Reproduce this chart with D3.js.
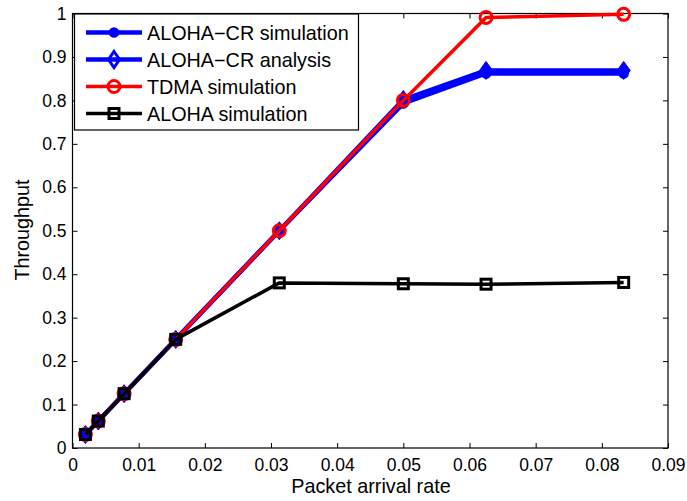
<!DOCTYPE html>
<html>
<head>
<meta charset="utf-8">
<script src="https://cdn.jsdelivr.net/npm/d3@7"></script>
<style>
body { margin: 0; background: #fff; }
text { font-family: "Liberation Sans", Arial, sans-serif; }
</style>
</head>
<body>
<script>
// packet arrival rates (x) and throughput of each scheme (y)
var rates = [0.00195, 0.0039, 0.0078, 0.0156, 0.03125, 0.05, 0.0625, 0.0833];
var crSim = [0.031, 0.062, 0.125, 0.25, 0.5, 0.793, 0.862, 0.862];
var crAnalysis = [0.031, 0.062, 0.125, 0.25, 0.5, 0.802, 0.869, 0.869];
var tdmaSim = [0.031, 0.062, 0.125, 0.25, 0.5, 0.8, 0.991, 0.998];
var alohaSim = [0.031, 0.062, 0.125, 0.25, 0.38, 0.378, 0.377, 0.381];

var seriesNames = ["ALOHA\u2212CR simulation", "ALOHA\u2212CR analysis", "TDMA simulation", "ALOHA simulation"];
var xTicks = [0, 0.01, 0.02, 0.03, 0.04, 0.05, 0.06, 0.07, 0.08, 0.09];
var yTicks = [0, 0.1, 0.2, 0.3, 0.4, 0.5, 0.6, 0.7, 0.8, 0.9, 1];

// Settings
var w = 687, h = 501;
var pLeft = 72.5, pRight = 668, pTop = 13.5, pBottom = 448;

var xScale = d3.scaleLinear().domain([0, 0.09]).range([pLeft, pRight]);
var yScale = d3.scaleLinear().domain([0, 1]).range([pBottom, pTop]);

var svg = d3.select("body").append("svg")
	.attr("width", w)
	.attr("height", h);

// axes with inward ticks (bottom/left labelled, top/right bare)
var fmt = function(d) { return String(+d.toFixed(2)); };
svg.append("g")
	.attr("transform", "translate(0," + pBottom + ")")
	.call(d3.axisBottom(xScale).tickValues(xTicks).tickSizeInner(-5).tickSizeOuter(0).tickPadding(11).tickFormat(fmt));
svg.append("g")
	.attr("transform", "translate(" + pLeft + ",0)")
	.call(d3.axisLeft(yScale).tickValues(yTicks).tickSizeInner(-5).tickSizeOuter(0).tickPadding(6).tickFormat(fmt));
svg.append("g")
	.attr("transform", "translate(0," + pTop + ")")
	.call(d3.axisTop(xScale).tickValues(xTicks).tickSizeInner(-5).tickSizeOuter(0).tickFormat(""));
svg.append("g")
	.attr("transform", "translate(" + pRight + ",0)")
	.call(d3.axisRight(yScale).tickValues(yTicks).tickSizeInner(-5).tickSizeOuter(0).tickFormat(""));

svg.selectAll(".domain").remove();
svg.selectAll(".tick line").attr("stroke", "#000");
svg.selectAll(".tick text").attr("font-size", 17.5).attr("fill", "#000")
	.attr("font-family", "'Liberation Sans', Arial, sans-serif");

// frame
svg.append("rect")
	.attr("x", pLeft).attr("y", pTop)
	.attr("width", pRight - pLeft).attr("height", pBottom - pTop)
	.attr("fill", "none").attr("stroke", "#000").attr("stroke-width", 1.2);

// axis titles
svg.append("text")
	.attr("x", 371).attr("y", 492.5)
	.attr("text-anchor", "middle").attr("font-size", 19.8)
	.text("Packet arrival rate");
svg.append("text")
	.attr("transform", "translate(28.5," + 230 + ") rotate(-90)")
	.attr("text-anchor", "middle").attr("font-size", 19.8)
	.text("Throughput");

// marker drawing (legend diamond is drawn hollow, plot diamonds come out solid)
function drawMarker(g, type, color, inLegend) {
	if (type == "circleFilled") {
		g.append("circle").attr("r", 4.5).attr("fill", color).attr("stroke", color).attr("stroke-width", 1.5);
	} else if (type == "diamond") {
		if (inLegend) {
			g.append("path").attr("d", "M0,-8L5.5,0L0,8L-5.5,0Z").attr("fill", "none").attr("stroke", color).attr("stroke-width", 3);
		} else {
			g.append("path").attr("d", "M0,-9L6.5,0L0,9L-6.5,0Z").attr("fill", color).attr("stroke", color).attr("stroke-width", 1);
		}
	} else if (type == "circleOpen") {
		g.append("circle").attr("r", 6).attr("fill", "none").attr("stroke", color).attr("stroke-width", 3);
	} else if (type == "square") {
		g.append("rect").attr("x", -5).attr("y", -5).attr("width", 10).attr("height", 10)
			.attr("fill", "none").attr("stroke", color).attr("stroke-width", 3);
	}
}

var series = [
	{ name: seriesNames[0], values: crSim, color: "#0000ff", marker: "circleFilled", width: 4.5 },
	{ name: seriesNames[1], values: crAnalysis, color: "#0000ff", marker: "diamond", width: 4.5 },
	{ name: seriesNames[2], values: tdmaSim, color: "#ff0000", marker: "circleOpen", width: 3.5 },
	{ name: seriesNames[3], values: alohaSim, color: "#000000", marker: "square", width: 3.5 }
];

var line = d3.line()
	.x(function(d) { return xScale(d[0]); })
	.y(function(d) { return yScale(d[1]); });

series.forEach(function(s) {
	var pts = rates.map(function(r, i) { return [r, s.values[i]]; });
	svg.append("path")
		.attr("d", line(pts))
		.attr("fill", "none")
		.attr("stroke", s.color)
		.attr("stroke-width", s.width)
		.attr("stroke-linejoin", "round");
	pts.forEach(function(p) {
		var g = svg.append("g").attr("transform", "translate(" + xScale(p[0]) + "," + yScale(p[1]) + ")");
		drawMarker(g, s.marker, s.color, false);
	});
});

// legend
var legend = svg.append("g");
legend.append("rect")
	.attr("x", 74.5).attr("y", 14).attr("width", 284).attr("height", 116)
	.attr("fill", "#fff").attr("stroke", "#000").attr("stroke-width", 1.2);
series.forEach(function(s, i) {
	var y = 32.5 + i * 27;
	legend.append("line")
		.attr("x1", 86).attr("x2", 142).attr("y1", y).attr("y2", y)
		.attr("stroke", s.color).attr("stroke-width", s.width);
	var g = legend.append("g").attr("transform", "translate(114," + y + ")");
	drawMarker(g, s.marker, s.color, true);
	legend.append("text")
		.attr("x", 147).attr("y", y + 7)
		.attr("font-size", 19.8)
		.text(s.name);
});
</script>
</body>
</html>
